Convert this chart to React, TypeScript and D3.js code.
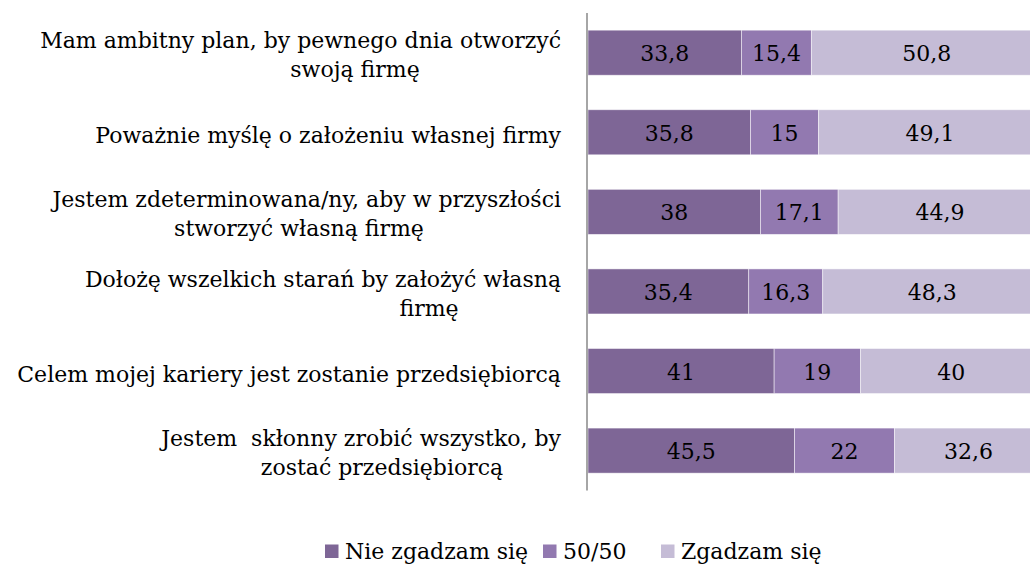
import React, { useEffect, useRef } from "react";
import * as d3 from "d3";

const categories = [
  "Mam ambitny plan, by pewnego dnia otworzyć swoją firmę",
  "Poważnie myślę o założeniu własnej firmy",
  "Jestem zdeterminowana/ny, aby w przyszłości stworzyć własną firmę",
  "Dołożę wszelkich starań by założyć własną firmę",
  "Celem mojej kariery jest zostanie przedsiębiorcą",
  "Jestem  skłonny zrobić wszystko, by zostać przedsiębiorcą",
];
const labelLines = [
  ["Mam ambitny plan, by pewnego dnia otworzyć", "swoją firmę"],
  ["Poważnie myślę o założeniu własnej firmy"],
  ["Jestem zdeterminowana/ny, aby w przyszłości", "stworzyć własną firmę"],
  ["Dołożę wszelkich starań by założyć własną", "firmę"],
  ["Celem mojej kariery jest zostanie przedsiębiorcą"],
  ["Jestem  skłonny zrobić wszystko, by", "zostać przedsiębiorcą"],
];
const seriesNames = ["Nie zgadzam się", "50/50", "Zgadzam się"];
const disagree = [33.8, 35.8, 38, 35.4, 41, 45.5];
const neutral = [15.4, 15, 17.1, 16.3, 19, 22];
const agree = [50.8, 49.1, 44.9, 48.3, 40, 32.6];
const seriesKeys = ["disagree", "neutral", "agree"];

// layout
const W = 1030;
const H = 566;
const colors = ["#7e6696", "#9279b0", "#c5bcd6"];
const FONT = "'DejaVu Serif', serif";
const FS = 22;
const secondLineCenter = [355, 0, 299, 429, 0, 382];
const legendX = [325, 543, 661];

export default function App() {
  const ref = useRef<SVGSVGElement>(null);
  useEffect(() => {
    const svg = d3.select(ref.current);
    svg.selectAll("*").remove();
    const rows = categories.map((c, i) => ({
      cat: c,
      disagree: disagree[i],
      neutral: neutral[i],
      agree: agree[i],
    }));
    const x = d3.scaleLinear().domain([0, 100]).range([588, 1042]);
    const y = d3
      .scaleBand()
      .domain(categories)
      .range([12.9, 490.4])
      .paddingInner(0.434)
      .paddingOuter(0.217);
    const stack = d3.stack<any>().keys(seriesKeys)(rows);

    stack.forEach((s, si) => {
      const g = svg.append("g");
      g.selectAll("rect")
        .data(s)
        .join("rect")
        .attr("x", (d) => x(d[0]))
        .attr("y", (d) => y(d.data.cat)!)
        .attr("width", (d) => x(d[1]) - x(d[0]))
        .attr("height", y.bandwidth())
        .attr("fill", colors[si])
        .attr("stroke", "rgba(255,255,255,0.6)")
        .attr("stroke-width", 0.8);
      g.selectAll("text")
        .data(s)
        .join("text")
        .attr("x", (d) => (x(d[0]) + x(d[1])) / 2)
        .attr("y", (d) => y(d.data.cat)! + y.bandwidth() / 2 + 1)
        .attr("text-anchor", "middle")
        .attr("dominant-baseline", "central")
        .style("font-family", FONT)
        .style("font-size", FS + "px")
        .attr("fill", "#000")
        .text((d) => String(d.data[seriesKeys[si]]).replace(".", ","));
    });

    // axis line
    svg
      .append("line")
      .attr("x1", 587)
      .attr("x2", 587)
      .attr("y1", y.range()[0])
      .attr("y2", y.range()[1])
      .attr("stroke", "#a6a6a6")
      .attr("stroke-width", 2);

    // category labels
    categories.forEach((c, i) => {
      const cy = y(c)! + y.bandwidth() / 2;
      const lines = labelLines[i];
      const t1 = svg
        .append("text")
        .attr("x", 561)
        .attr("y", lines.length === 1 ? cy + 3 : cy - 12)
        .attr("text-anchor", "end")
        .attr("dominant-baseline", "central")
        .style("font-family", FONT)
        .style("font-size", FS + "px")
        .style("white-space", "pre")
        .attr("fill", "#000")
        .text(lines[0]);
      if (lines.length > 1) {
        svg
          .append("text")
          .attr("x", secondLineCenter[i])
          .attr("y", cy + 17)
          .attr("text-anchor", "middle")
          .attr("dominant-baseline", "central")
          .style("font-family", FONT)
          .style("font-size", FS + "px")
          .attr("fill", "#000")
          .text(lines[1]);
      }
    });

    // legend
    seriesNames.forEach((n, i) => {
      svg
        .append("rect")
        .attr("x", legendX[i])
        .attr("y", 544.5)
        .attr("width", 13.5)
        .attr("height", 13.5)
        .attr("fill", colors[i]);
      svg
        .append("text")
        .attr("x", legendX[i] + 20)
        .attr("y", 551.5)
        .attr("dominant-baseline", "central")
        .style("font-family", FONT)
        .style("font-size", FS + "px")
        .attr("fill", "#000")
        .text(n);
    });
  }, []);
  return (
    <svg
      ref={ref}
      width={W}
      height={H}
      style={{ position: "absolute", left: 0, top: 0, background: "#fff" }}
    />
  );
}
